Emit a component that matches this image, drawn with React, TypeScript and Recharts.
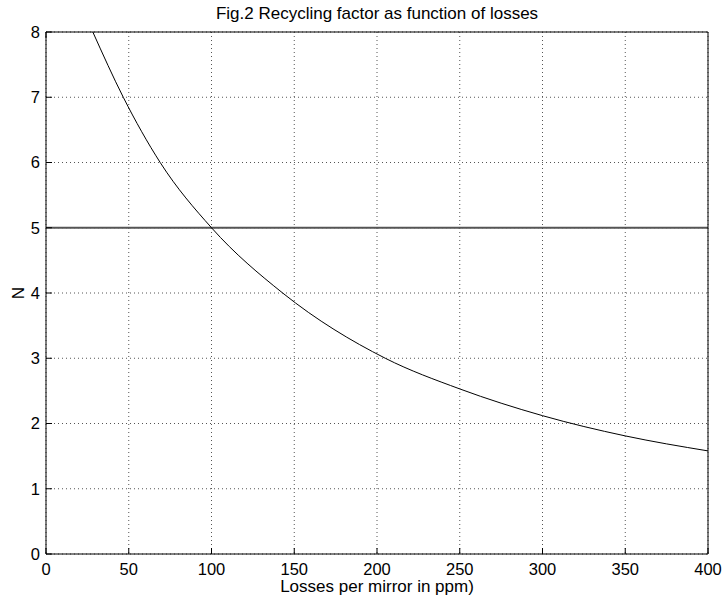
import {
  LineChart,
  Line,
  XAxis,
  YAxis,
  CartesianGrid,
  ReferenceLine,
  Label,
} from 'recharts';

// losses per mirror (ppm) and recycling factor N
const lossesPpm = [28.3, 46.7, 69, 100, 143, 205, 250, 300, 350, 400];
const recyclingN = [8.0, 7.0, 6.0, 5.0, 4.0, 3.0, 2.53, 2.12, 1.81, 1.58];

const xTicks = [0, 50, 100, 150, 200, 250, 300, 350, 400];
const yTicks = [0, 1, 2, 3, 4, 5, 6, 7, 8];
const targetN = 5;

const title = 'Fig.2 Recycling factor as function of losses';
const xTitle = 'Losses per mirror in ppm)';
const yTitle = 'N';

const font = '"Liberation Sans", Arial, sans-serif';
// hidden labels for the mirrored top / right axes (only the inward ticks show)
const hiddenTick = { fill: 'transparent', fontSize: 1 };

export default function App() {
  const chartData = lossesPpm.map((x, i) => ({ x, n: recyclingN[i] }));

  return (
    <div style={{ position: 'absolute', left: 0, top: 0, fontFamily: font }}>
      <LineChart
        width={723}
        height={605}
        data={chartData}
        margin={{ top: 31, right: 14, left: 0, bottom: 0 }}
      >
        <CartesianGrid strokeDasharray="1 3" stroke="#555" />
        <XAxis
          dataKey="x"
          type="number"
          domain={[0, 400]}
          ticks={xTicks}
          height={51}
          tickSize={-6}
          tickMargin={15}
          stroke="#000"
          tick={{ fill: '#000', fontSize: 16.5, fontFamily: font }}
          allowDataOverflow
        >
          <Label
            value={xTitle}
            position="insideBottom"
            offset={13}
            style={{ fill: '#000', fontSize: 17, fontFamily: font }}
          />
        </XAxis>
        <XAxis
          xAxisId="top"
          orientation="top"
          type="number"
          domain={[0, 400]}
          ticks={xTicks}
          height={1}
          tickSize={-6}
          stroke="#000"
          tick={hiddenTick}
        >
          <Label
            value={title}
            position="top"
            offset={12}
            style={{ fill: '#000', fontSize: 17, fontFamily: font }}
          />
        </XAxis>
        <YAxis
          type="number"
          domain={[0, 8]}
          ticks={yTicks}
          width={46}
          tickSize={-6}
          tickMargin={12}
          stroke="#000"
          tick={{ fill: '#000', fontSize: 16.5, fontFamily: font }}
          allowDataOverflow
        >
          <Label
            value={yTitle}
            angle={-90}
            position="center"
            dx={-5}
            style={{ fill: '#000', fontSize: 17, fontFamily: font }}
          />
        </YAxis>
        <YAxis
          yAxisId="right"
          orientation="right"
          type="number"
          domain={[0, 8]}
          ticks={yTicks}
          width={1}
          tickSize={-6}
          stroke="#000"
          tick={hiddenTick}
        />
        <ReferenceLine y={targetN} stroke="#555" strokeWidth={2} />
        <Line
          type="monotone"
          dataKey="n"
          stroke="#000"
          strokeWidth={1}
          dot={false}
          activeDot={false}
          isAnimationActive={false}
        />
      </LineChart>
    </div>
  );
}
